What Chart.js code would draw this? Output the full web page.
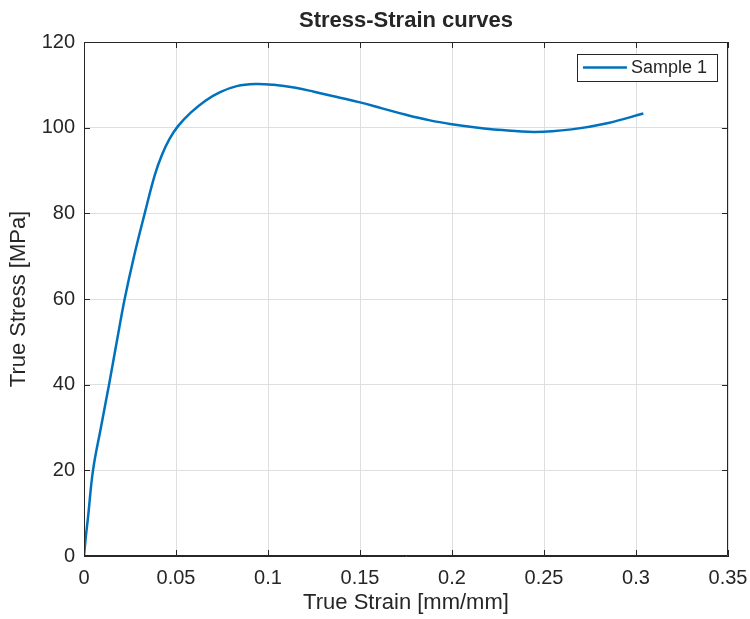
<!DOCTYPE html>
<html>
<head>
<meta charset="utf-8">
<script src="https://cdn.jsdelivr.net/npm/chart.js@4"></script>
<style>
  html, body { margin: 0; padding: 0; background: #ffffff; }
  #wrap { width: 750px; height: 619px; }
</style>
</head>
<body>
<div id="wrap"><canvas id="c" width="750" height="619"></canvas></div>
<script>
// True strain [mm/mm] and true stress [MPa] for the tested specimen
const strain = [0, 0.001, 0.0022, 0.0049, 0.0092, 0.0136, 0.0178, 0.0221, 0.0272, 0.033, 0.0385, 0.0425, 0.0465, 0.051, 0.058, 0.066, 0.074, 0.083, 0.093, 0.103, 0.115, 0.125, 0.137, 0.15, 0.162, 0.175, 0.188, 0.2, 0.212, 0.225, 0.245, 0.265, 0.285, 0.304];
const stress = [0, 4.5, 9.1, 20, 30, 40, 50, 60, 70, 80, 89, 93.8, 97.4, 100.3, 103.5, 106.3, 108.3, 109.7, 110.2, 110.0, 109.3, 108.4, 107.2, 105.9, 104.5, 103.0, 101.7, 100.8, 100.1, 99.5, 99.0, 99.6, 101.1, 103.3];
const seriesName = 'Sample 1';

const xTicks = [0, 0.05, 0.1, 0.15, 0.2, 0.25, 0.3, 0.35];
const yTicks = [0, 20, 40, 60, 80, 100, 120];

const INK = '#262626';
const LINE = '#0072BD';
const GRID = '#dfdfdf';
const FONT = '"Liberation Sans", Arial, Helvetica, sans-serif';

const points = strain.map((s, i) => ({ x: s, y: stress[i] }));

// Closed axes box with inward tick marks on all four sides, plus an inset legend
const boxPlugin = {
  id: 'boxAndLegend',
  afterDraw(chart) {
    const { ctx, chartArea: a, scales } = chart;
    const tl = 6;
    ctx.save();
    ctx.strokeStyle = INK;
    ctx.lineWidth = 1;
    ctx.beginPath();
    ctx.rect(a.left + 0.5, a.top + 0.5, a.right - a.left - 1, a.bottom - a.top - 1);
    ctx.stroke();
    ctx.beginPath();
    xTicks.forEach(v => {
      const px = Math.round(scales.x.getPixelForValue(v)) + 0.5;
      ctx.moveTo(px, a.bottom); ctx.lineTo(px, a.bottom - tl);
      ctx.moveTo(px, a.top); ctx.lineTo(px, a.top + tl);
    });
    yTicks.forEach(v => {
      const py = Math.round(scales.y.getPixelForValue(v)) + 0.5;
      ctx.moveTo(a.left, py); ctx.lineTo(a.left + tl, py);
      ctx.moveTo(a.right, py); ctx.lineTo(a.right - tl, py);
    });
    ctx.stroke();

    // legend
    const ds = chart.data.datasets[0];
    ctx.font = '18px ' + FONT;
    const textW = ctx.measureText(ds.label).width;
    const bw = 6 + 44 + 4 + textW + 10;
    const bh = 27;
    const bx = a.right - 11 - bw;
    const by = a.top + 12;
    ctx.fillStyle = '#ffffff';
    ctx.fillRect(bx, by, bw, bh);
    ctx.strokeStyle = INK;
    ctx.lineWidth = 1;
    ctx.strokeRect(Math.round(bx) + 0.5, Math.round(by) + 0.5, Math.round(bw), bh);
    ctx.strokeStyle = ds.borderColor;
    ctx.lineWidth = ds.borderWidth;
    ctx.beginPath();
    ctx.moveTo(bx + 6, by + bh / 2);
    ctx.lineTo(bx + 50, by + bh / 2);
    ctx.stroke();
    ctx.fillStyle = INK;
    ctx.textBaseline = 'middle';
    ctx.textAlign = 'left';
    ctx.fillText(ds.label, bx + 54, by + bh / 2 + 1);
    ctx.restore();
  }
};

new Chart(document.getElementById('c'), {
  type: 'line',
  data: {
    datasets: [{
      label: seriesName,
      data: points,
      borderColor: LINE,
      backgroundColor: LINE,
      borderWidth: 2.5,
      pointRadius: 0,
      fill: false,
      tension: 0.4
    }]
  },
  options: {
    responsive: false,
    animation: false,
    devicePixelRatio: 1,
    layout: { padding: { left: 0, right: 22, top: 0, bottom: 0 } },
    plugins: {
      legend: { display: false },
      tooltip: { enabled: false },
      title: {
        display: true,
        text: 'Stress-Strain curves',
        color: INK,
        fullSize: false,
        font: { family: FONT, size: 22, weight: 'bold' },
        padding: { top: 8, bottom: 7.6 }
      }
    },
    scales: {
      x: {
        type: 'linear',
        min: 0, max: 0.35,
        afterFit(scale) {
          scale.height = 63;
          scale.paddingLeft = 0;
          scale.paddingRight = 0;
        },
        afterBuildTicks(scale) { scale.ticks = xTicks.map(v => ({ value: v })); },
        grid: { color: GRID, lineWidth: 1, drawTicks: false },
        border: { display: true, color: INK },
        ticks: {
          color: INK, padding: 10, maxRotation: 0,
          font: { family: FONT, size: 20 },
          callback: v => String(Number(v.toFixed(2)))
        },
        title: {
          display: true, text: 'True Strain [mm/mm]', color: INK,
          font: { family: FONT, size: 22 },
          padding: { top: 0, bottom: 3 }
        }
      },
      y: {
        type: 'linear',
        min: 0, max: 120,
        afterFit(scale) {
          scale.width = 84;
          scale.paddingTop = 0;
          scale.paddingBottom = 0;
        },
        afterBuildTicks(scale) { scale.ticks = yTicks.map(v => ({ value: v })); },
        grid: { color: GRID, lineWidth: 1, drawTicks: false },
        border: { display: true, color: INK },
        ticks: {
          color: INK, padding: 9,
          font: { family: FONT, size: 20 }
        },
        title: {
          display: true, text: 'True Stress [MPa]', color: INK,
          font: { family: FONT, size: 22 },
          padding: { top: 6, bottom: 0 }
        }
      }
    }
  },
  plugins: [boxPlugin]
});
</script>
</body>
</html>
